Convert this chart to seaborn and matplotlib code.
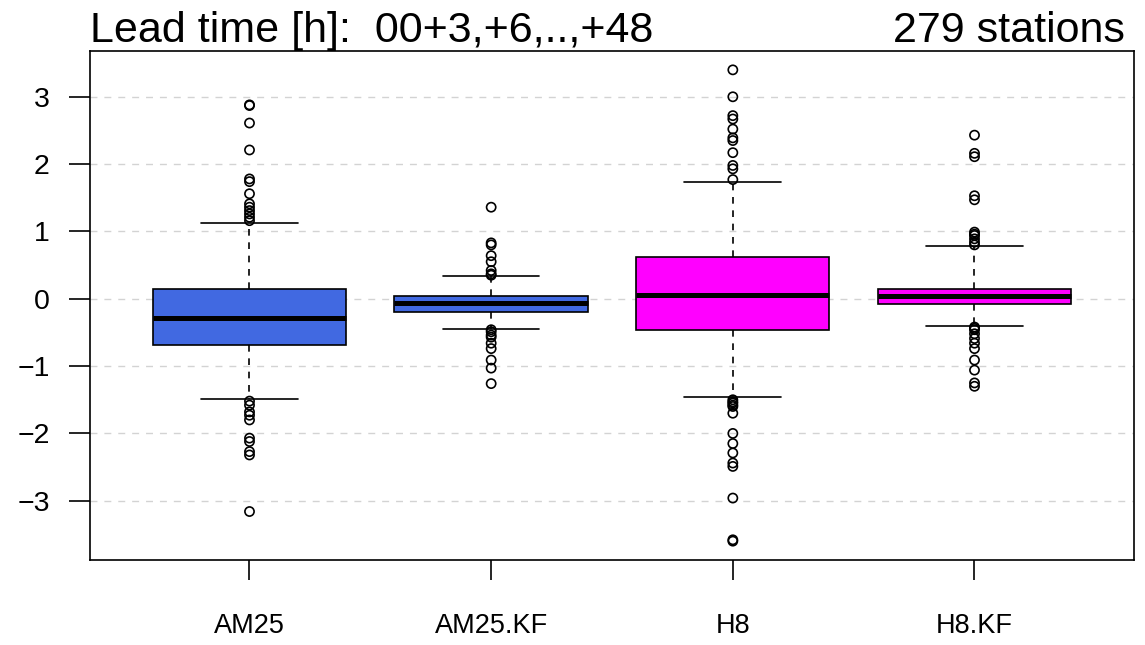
import pandas as pd
import matplotlib
matplotlib.use("Agg")
import matplotlib.pyplot as plt
import seaborn as sns

# ------------------ DATA ------------------
models = ["AM25", "AM25.KF", "H8", "H8.KF"]
box_colors = ["#4169E1", "#4169E1", "#FF00FF", "#FF00FF"]

q1 = [-0.68, -0.20, -0.46, -0.08]
median = [-0.29, -0.07, 0.06, 0.04]
q3 = [0.14, 0.04, 0.62, 0.14]
whisker_lo = [-1.49, -0.45, -1.46, -0.41]
whisker_hi = [1.12, 0.34, 1.73, 0.78]

out_am25 = [2.88, 2.87, 2.61, 2.21, 1.78, 1.74, 1.56, 1.41, 1.36, 1.31, 1.26,
            1.21, 1.16, -1.52, -1.58, -1.68, -1.73, -1.80, -2.07, -2.12,
            -2.27, -2.32, -3.16]
out_am25_kf = [1.36, 0.83, 0.80, 0.64, 0.55, 0.42, 0.37, 0.35, -0.46, -0.49,
               -0.54, -0.57, -0.66, -0.74, -0.91, -1.03, -1.26]
out_h8 = [3.40, 3.00, 2.72, 2.67, 2.52, 2.39, 2.35, 2.17, 1.98, 1.93, 1.77,
          -1.50, -1.53, -1.55, -1.58, -1.60, -1.70, -2.00, -2.15, -2.29,
          -2.44, -2.49, -2.96, -3.58, -3.60]
out_h8_kf = [2.43, 2.16, 2.11, 1.53, 1.47, 0.99, 0.96, 0.94, 0.89, 0.84, 0.80,
             -0.42, -0.44, -0.46, -0.52, -0.59, -0.66, -0.74, -0.91, -1.06,
             -1.25, -1.30]
outliers = [out_am25, out_am25_kf, out_h8, out_h8_kf]

yticks = [-3, -2, -1, 0, 1, 2, 3]
title_left = "Lead time [h]:  00+3,+6,..,+48"
title_right = "279 stations"

# ------------------ STYLE ------------------
sns.set_style("ticks")
plt.rcParams["font.family"] = ["Liberation Sans", "DejaVu Sans"]
plt.rcParams["text.color"] = "black"
plt.rcParams["xtick.labelcolor"] = "black"
plt.rcParams["ytick.labelcolor"] = "black"

fig = plt.figure(figsize=(11.45, 6.45), dpi=100)
ax = fig.add_axes([90 / 1145, 1 - 560 / 645, 1044 / 1145, 509 / 645])

# ------------------ OUTLIERS (seaborn) ------------------
flier_df = pd.DataFrame(
    [(m, v) for m, vals in zip(models, outliers) for v in vals],
    columns=["model", "value"],
)
sns.stripplot(data=flier_df, x="model", y="value", order=models, jitter=False,
              size=6.6, linewidth=1.2, edgecolor="black", color="white",
              zorder=4, ax=ax)
for coll in ax.collections:
    coll.set_facecolor("none")

# ------------------ BOXES ------------------
stats = [
    dict(label=m, q1=a, med=b, q3=c, whislo=d, whishi=e, fliers=[])
    for m, a, b, c, d, e in zip(models, q1, median, q3, whisker_lo, whisker_hi)
]
bp = ax.bxp(stats, positions=range(len(models)), widths=0.8, capwidths=0.4,
            patch_artist=True, showfliers=False, manage_ticks=False,
            boxprops=dict(edgecolor="black", linewidth=1.2),
            medianprops=dict(color="black", linewidth=3.6, solid_capstyle="butt"),
            whiskerprops=dict(color="black", linewidth=1.2, linestyle=(0, (4, 4))),
            capprops=dict(color="black", linewidth=1.2))
for patch, col in zip(bp["boxes"], box_colors):
    patch.set_facecolor(col)
    patch.set_zorder(2)

# ------------------ AXES ------------------
ax.set_xlim(-0.66, 3.66)
ax.set_ylim(-3.88, 3.68)
ax.set_yticks(yticks)
ax.set_xticks(range(len(models)))
ax.set_xticklabels(models)
ax.set_xlabel("")
ax.set_ylabel("")
ax.yaxis.grid(True, color="#D3D3D3", linestyle=(0, (5, 5)), linewidth=1.0)
ax.xaxis.grid(False)
ax.set_axisbelow(True)
for side in ["top", "right", "left", "bottom"]:
    ax.spines[side].set_visible(True)
    ax.spines[side].set_color("black")
    ax.spines[side].set_linewidth(1.2)
ax.tick_params(axis="y", direction="out", length=15, width=1.2, color="black",
               labelsize=20.5, pad=14)
ax.tick_params(axis="x", direction="out", length=14.5, width=1.2, color="black",
               labelsize=19.5, pad=24)

fig.text(90 / 1145, 1 - 42 / 645, title_left, fontsize=31, va="baseline", ha="left")
fig.text(1125 / 1145, 1 - 42 / 645, title_right, fontsize=31, va="baseline", ha="right")

fig.savefig("out.png", dpi=100)
